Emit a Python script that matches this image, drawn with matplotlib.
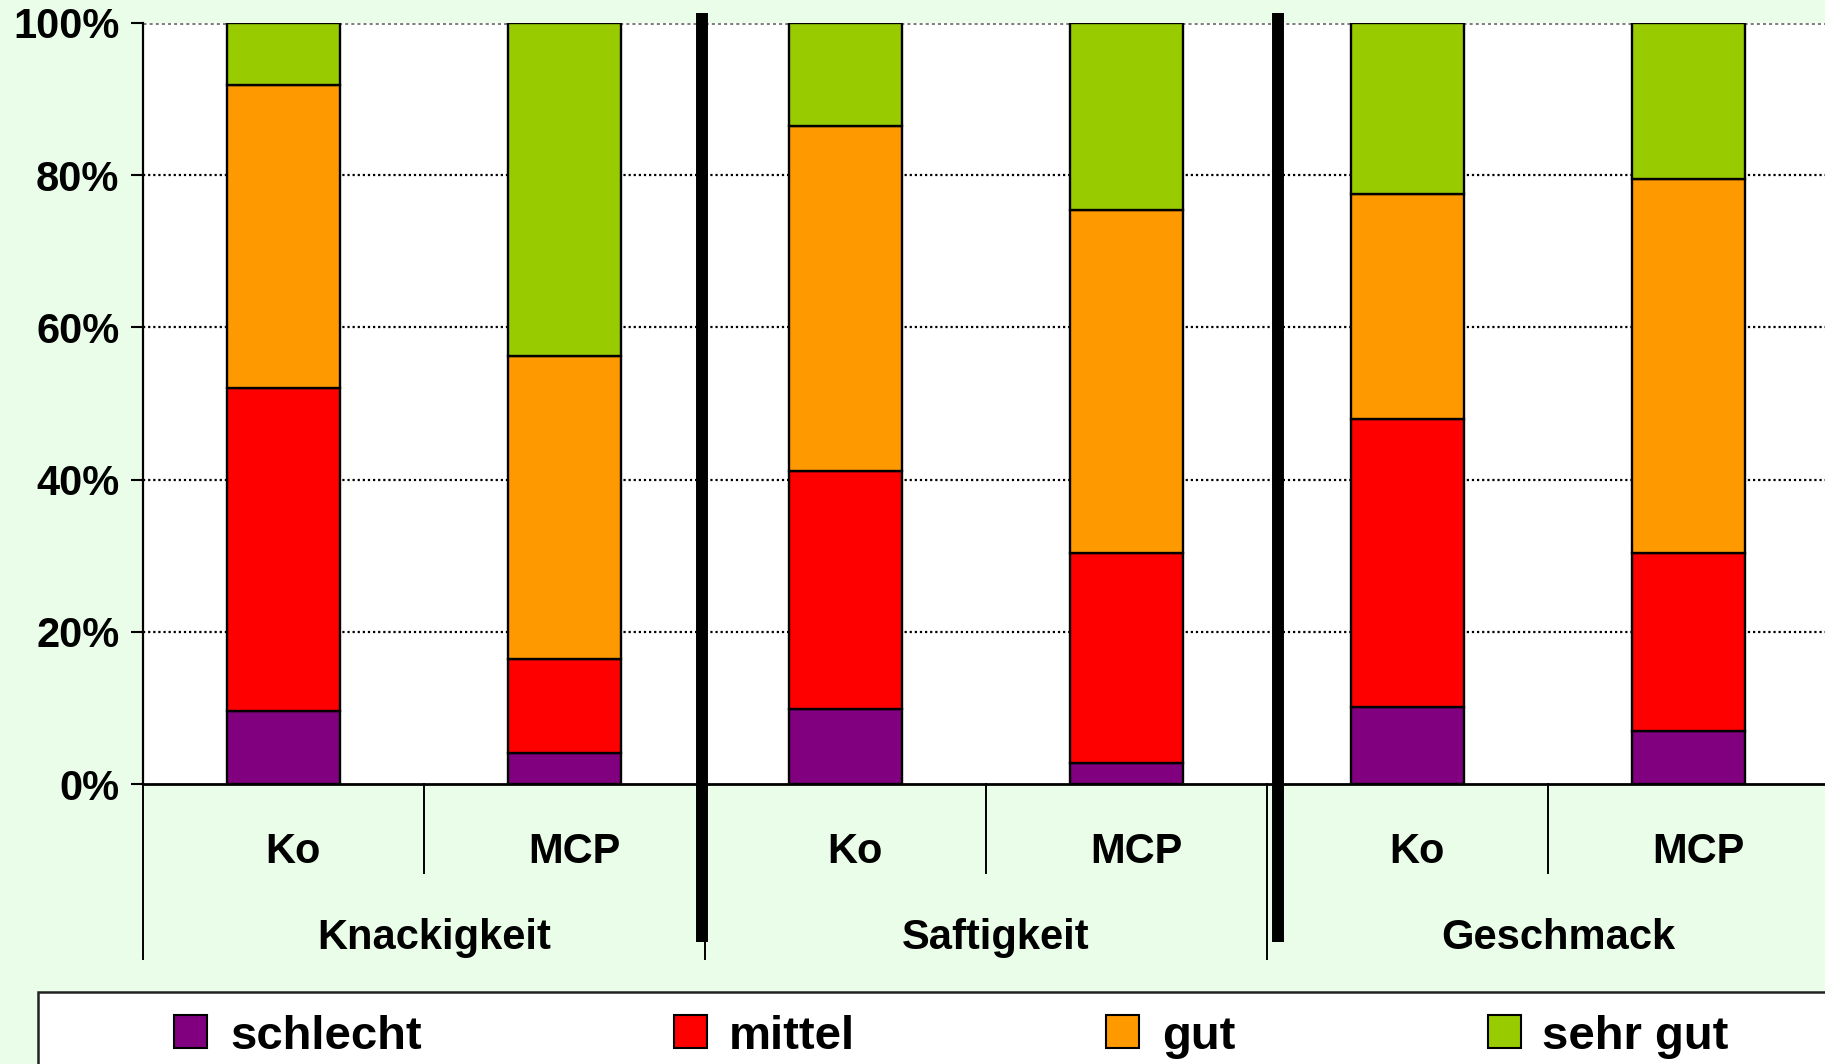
import numpy as np
import matplotlib
matplotlib.use("Agg")
import matplotlib.pyplot as plt
from matplotlib.patches import Rectangle

plt.rcParams["font.family"] = ["Liberation Sans", "DejaVu Sans"]
plt.rcParams["font.weight"] = "bold"

# Anteile (%) je Bewertungsstufe, Reihenfolge: Ko/MCP je Merkmal
varianten = ["Ko", "MCP", "Ko", "MCP", "Ko", "MCP"]
merkmale = ["Knackigkeit", "Saftigkeit", "Geschmack"]
schlecht = [9.6, 4.1, 9.8, 2.8, 10.1, 6.9]
mittel = [42.5, 12.3, 31.3, 27.5, 37.8, 23.4]
gut = [39.7, 39.8, 45.3, 45.1, 29.6, 49.2]
sehr_gut = [8.2, 43.8, 13.6, 24.6, 22.5, 20.5]

stufen = ["schlecht", "mittel", "gut", "sehr gut"]
farben = ["#800080", "#FF0000", "#FF9900", "#99CC00"]
hintergrund = "#E9FDE9"

W, H = 1825, 1064
fig = plt.figure(figsize=(W / 100, H / 100), dpi=100, facecolor=hintergrund)
ax = fig.add_axes([143 / W, 1 - 784 / H, (1829 - 143) / W, 761 / H])
ax.set_facecolor("white")

x = np.arange(len(varianten))
boden = np.zeros(len(varianten))
for werte, farbe, name in zip([schlecht, mittel, gut, sehr_gut], farben, stufen):
    ax.bar(x, werte, width=0.4, bottom=boden, color=farbe,
           edgecolor="black", linewidth=1.7, label=name, zorder=3)
    boden += np.array(werte)

ax.set_xlim(-0.5, len(varianten) - 0.5)
ax.set_ylim(0, 100)
ax.set_yticks(np.arange(0, 101, 20))
ax.set_yticklabels([f"{v}%" for v in range(0, 101, 20)])
ax.tick_params(axis="y", length=9, width=1.5, pad=8, labelsize=30)
ax.set_xticks([])

# gepunktete Hilfslinien
for v in range(20, 100, 20):
    ax.axhline(v, color="black", linestyle=(0, (1, 1.3)), linewidth=1.6, zorder=1)
ax.axhline(100, color="#808080", linestyle=(0, (1, 1)), linewidth=2.2, zorder=1)

for s in ["top", "right"]:
    ax.spines[s].set_visible(False)
ax.spines["left"].set_linewidth(1.6)
ax.spines["bottom"].set_linewidth(2)

tr = ax.get_xaxis_transform()

# Trennstriche unter der Achse
for xs in [0.5, 2.5, 4.5]:
    ax.plot([xs, xs], [0, -0.117], color="black", lw=1.4, transform=tr, clip_on=False)
for xs in [-0.5, 1.5, 3.5]:
    ax.plot([xs, xs], [0, -0.23], color="black", lw=1.4, transform=tr, clip_on=False)

# dicke Balken zwischen den Merkmalen
for xs in [1.489, 3.539]:
    ax.plot([xs, xs], [1.013, -0.208], color="black", lw=8.6,
            solid_capstyle="butt", transform=tr, clip_on=False, zorder=5)

for xi, name in zip(x, varianten):
    ax.text(xi + 0.035, -0.090, name, transform=tr, ha="center", va="center",
            fontsize=30, fontweight="bold")
for i, name in enumerate(merkmale):
    ax.text(2 * i + 0.535, -0.203, name, transform=tr, ha="center", va="center",
            fontsize=30, fontweight="bold")

# Legende unten
fig.patches.append(Rectangle((38 / W, -0.1), 1.2, (1064 - 992) / H + 0.1,
                             transform=fig.transFigure, facecolor="white",
                             edgecolor="#222222", linewidth=1.8))
marker_x = [190, 690, 1122, 1504]
text_x = [230, 729, 1162, 1542]
for mx, tx, farbe, name in zip(marker_x, text_x, farben, stufen):
    fig.patches.append(Rectangle(((mx - 16) / W, 1 - 1048 / H), 33 / W, 33 / H,
                                 transform=fig.transFigure, facecolor=farbe,
                                 edgecolor="black", linewidth=1.5))
    fig.text(tx / W, 1 - 1037 / H, name, ha="left", va="center",
             fontsize=34, fontweight="bold")

fig.savefig("out.png", dpi=100, facecolor=hintergrund)
